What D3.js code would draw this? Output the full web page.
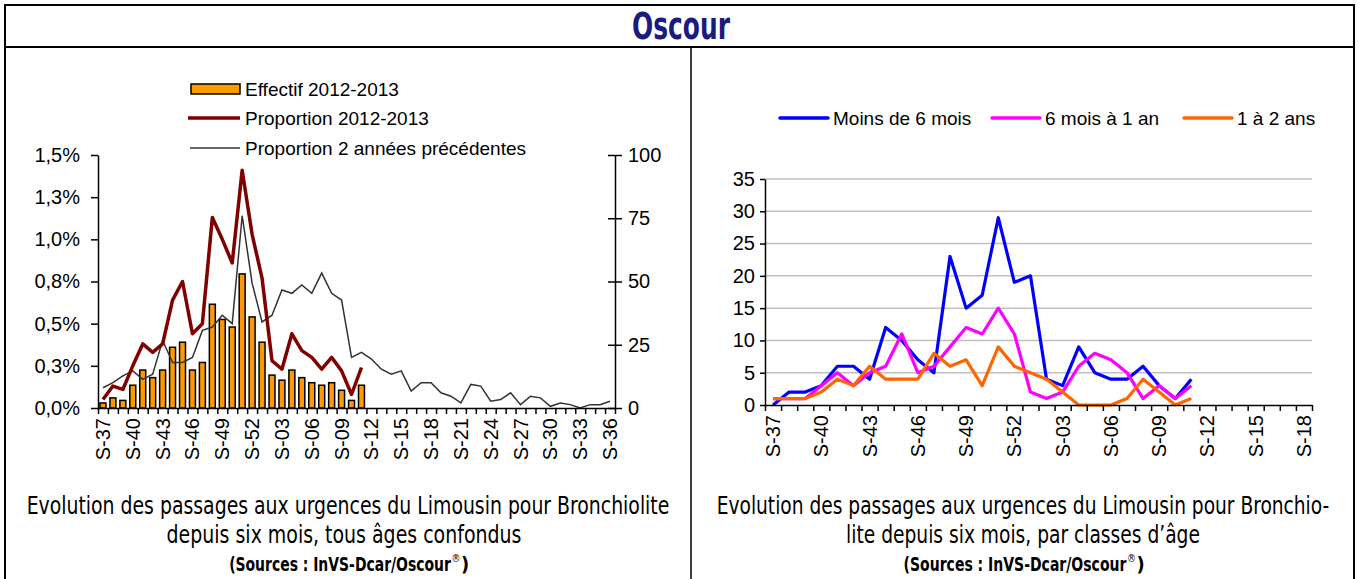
<!DOCTYPE html>
<html>
<head>
<meta charset="utf-8">
<script src="https://cdn.jsdelivr.net/npm/d3@7.9.0/dist/d3.min.js"></script>
<style>
  body { margin: 0; background: #fff; }
  svg { display: block; }
  text { font-family: "Liberation Sans", Arial, sans-serif; fill: #000; }
  .narrow { font-family: "Liberation Sans Narrow", "DejaVu Sans Condensed", sans-serif; }
  .axis path, .axis line { stroke: #000; stroke-width: 1.5; }
  .axis text { font-size: 20px; }
</style>
</head>
<body>
<svg id="chart" width="1359" height="579"></svg>
<script>
// week categories (S-37 .. S-52, then S-01 ..)
const weeksLeft = d3.range(37, 53).concat(d3.range(1, 37)).map(w => "S-" + String(w).padStart(2, "0"));
const weeksRight = d3.range(37, 53).concat(d3.range(1, 19)).map(w => "S-" + String(w).padStart(2, "0"));

// left chart : counts (right axis) and proportions in % (left axis)
const effectif2013 = [2, 4, 3, 9, 15, 12, 15, 24, 26, 15, 18, 41, 35, 32, 53, 36, 26, 13, 11, 15, 12, 10, 9, 10, 7, 3, 9];
const proportion2013 = [0.05, 0.13, 0.11, 0.25, 0.38, 0.33, 0.38, 0.64, 0.75, 0.44, 0.50, 1.13, 1.00, 0.86, 1.41, 1.03, 0.77, 0.28, 0.23, 0.44, 0.34, 0.30, 0.23, 0.30, 0.22, 0.08, 0.24];
const proportionPrev = [0.12, 0.15, 0.19, 0.22, 0.17, 0.20, 0.40, 0.27, 0.27, 0.30, 0.46, 0.48, 0.55, 0.50, 1.14, 0.74, 0.51, 0.55, 0.70, 0.68,
  0.73, 0.68, 0.80, 0.68, 0.64, 0.30, 0.33, 0.29, 0.23, 0.20, 0.22, 0.10, 0.15, 0.15, 0.09, 0.07, 0.03, 0.14, 0.13, 0.04,
  0.05, 0.09, 0.02, 0.07, 0.06, 0.01, 0.03, 0.02, 0.00, 0.02, 0.02, 0.04];
const pctTicks = [0, 0.25, 0.5, 0.75, 1, 1.25, 1.5];
const pctLabels = ["0,0%", "0,3%", "0,5%", "0,8%", "1,0%", "1,3%", "1,5%"];
const countTicks = [0, 25, 50, 75, 100];

// right chart : counts by age class
const moins6mois = [0, 2, 2, 3, 6, 6, 4, 12, 10, 7, 5, 23, 15, 17, 29, 19, 20, 4, 3, 9, 5, 4, 4, 6, 3, 1, 4];
const sixMois1an = [1, 1, 1, 3, 5, 3, 5, 6, 11, 5, 6, 9, 12, 11, 15, 11, 2, 1, 2, 6, 8, 7, 5, 1, 3, 1, 3];
const un2ans = [1, 1, 1, 2, 4, 3, 6, 4, 4, 4, 8, 6, 7, 3, 9, 6, 5, 4, 2, 0, 0, 0, 1, 4, 2, 0, 1];
const ageTicks = [0, 5, 10, 15, 20, 25, 30, 35];
const ageSeries = [
  { name: "Moins de 6 mois", values: moins6mois, color: "#0000ff" },
  { name: "6 mois à 1 an", values: sixMois1an, color: "#ff00ff" },
  { name: "1 à 2 ans", values: un2ans, color: "#ff6600" }
];

const svg = d3.select("#chart");

// squeeze a text horizontally so that it takes the given width
function fit(sel, cx, y, width) {
  const w = sel.node().getComputedTextLength();
  sel.attr("x", 0).attr("y", 0).attr("text-anchor", "middle")
    .attr("transform", `translate(${cx},${y}) scale(${width / w},1)`);
}

// frame
svg.append("rect").attr("x", 5).attr("y", 5).attr("width", 1349).attr("height", 580)
  .attr("fill", "none").attr("stroke", "#000").attr("stroke-width", 2);
svg.append("line").attr("x1", 5).attr("x2", 1354).attr("y1", 47).attr("y2", 47)
  .attr("stroke", "#000").attr("stroke-width", 2);
svg.append("line").attr("x1", 691).attr("x2", 691).attr("y1", 47).attr("y2", 579)
  .attr("stroke", "#000").attr("stroke-width", 1.5);
const title = svg.append("text").attr("class", "narrow").attr("font-size", 37).attr("font-weight", "bold")
  .style("fill", "#1a1a80").text("Oscour");
fit(title, 681, 39, 98);

// ---------- left chart ----------
const xL0 = 98, xL1 = 615, yL0 = 408, yL1 = 155;
const xBandL = d3.scaleBand().domain(weeksLeft).range([xL0, xL1]);
const xIdxL = d3.scaleLinear().domain([0, weeksLeft.length]).range([xL0, xL1]);
const yPct = d3.scaleLinear().domain([0, 1.5]).range([yL0, yL1]);
const yCount = d3.scaleLinear().domain([0, 100]).range([yL0, yL1]);
const bwL = xBandL.bandwidth();

const left = svg.append("g");

left.selectAll("rect.bar").data(effectif2013).join("rect")
  .attr("class", "bar")
  .attr("x", (d, i) => xBandL(weeksLeft[i]) + bwL * 0.2)
  .attr("width", bwL * 0.6)
  .attr("y", d => yCount(d))
  .attr("height", d => yCount(0) - yCount(d))
  .attr("fill", "#ff9900").attr("stroke", "#000").attr("stroke-width", 1.5);

const lineL = d3.line().x((d, i) => xBandL(weeksLeft[i]) + bwL / 2).y(d => yPct(d));
left.append("path").datum(proportionPrev).attr("d", lineL)
  .attr("fill", "none").attr("stroke", "#333").attr("stroke-width", 1.5);
left.append("path").datum(proportion2013).attr("d", lineL)
  .attr("fill", "none").attr("stroke", "#800000").attr("stroke-width", 3.5).attr("stroke-linejoin", "round");

left.append("g").attr("class", "axis").attr("transform", `translate(${xL0},0)`)
  .call(d3.axisLeft(yPct).tickValues(pctTicks).tickFormat((d, i) => pctLabels[i]).tickSize(7).tickSizeOuter(0).tickPadding(11));
left.append("g").attr("class", "axis").attr("transform", `translate(${xL1},0)`)
  .call(d3.axisRight(yCount).tickValues(countTicks).tickSize(7).tickSizeOuter(0).tickPadding(6))
  .call(g => g.selectAll(".tick line").attr("x1", -7));
left.append("g").attr("class", "axis").attr("transform", `translate(0,${yL0})`)
  .call(d3.axisBottom(xIdxL).tickValues(d3.range(weeksLeft.length + 1)).tickFormat("").tickSize(6).tickSizeOuter(0));
left.append("g").attr("class", "axis").attr("transform", `translate(0,${yL0})`)
  .call(d3.axisBottom(xBandL).tickValues(weeksLeft.filter((d, i) => i % 3 === 0)).tickSize(0))
  .call(g => g.select(".domain").remove())
  .call(g => g.selectAll("text").attr("transform", "rotate(-90)").attr("x", -10).attr("y", 0)
    .attr("dy", "0.35em").style("text-anchor", "end"));

// left legend
const legL = svg.append("g").attr("font-size", 19);
legL.append("rect").attr("x", 191).attr("y", 84).attr("width", 49).attr("height", 10)
  .attr("fill", "#ff9900").attr("stroke", "#000").attr("stroke-width", 1.5);
legL.append("line").attr("x1", 188).attr("x2", 240).attr("y1", 118).attr("y2", 118)
  .attr("stroke", "#800000").attr("stroke-width", 3.5);
legL.append("line").attr("x1", 190).attr("x2", 240).attr("y1", 148).attr("y2", 148)
  .attr("stroke", "#333").attr("stroke-width", 1.5);
["Effectif 2012-2013", "Proportion 2012-2013", "Proportion 2 années précédentes"].forEach((t, i) => {
  legL.append("text").attr("x", 245).attr("y", 89 + i * 29.5).attr("dy", "0.35em").text(t);
});

// ---------- right chart ----------
const xR0 = 765, xR1 = 1312, yR0 = 405, yR1 = 179;
const xBandR = d3.scaleBand().domain(weeksRight).range([xR0, xR1]);
const xIdxR = d3.scaleLinear().domain([0, weeksRight.length]).range([xR0, xR1]);
const yAge = d3.scaleLinear().domain([0, 35]).range([yR0, yR1]);
const bwR = xBandR.bandwidth();

const right = svg.append("g");
right.selectAll("line.grid").data(ageTicks.slice(1)).join("line")
  .attr("class", "grid").attr("x1", xR0).attr("x2", xR1)
  .attr("y1", d => yAge(d)).attr("y2", d => yAge(d))
  .attr("stroke", "#c0c0c0").attr("stroke-width", 1.5);

const lineR = d3.line().x((d, i) => xBandR(weeksRight[i]) + bwR / 2).y(d => yAge(d));
ageSeries.forEach(s => {
  right.append("path").datum(s.values).attr("d", lineR)
    .attr("fill", "none").attr("stroke", s.color).attr("stroke-width", 3.2).attr("stroke-linejoin", "round");
});

right.append("g").attr("class", "axis").attr("transform", `translate(${xR0},0)`)
  .call(d3.axisLeft(yAge).tickValues(ageTicks).tickSize(5).tickSizeOuter(0).tickPadding(5));
right.append("g").attr("class", "axis").attr("transform", `translate(0,${yR0})`)
  .call(d3.axisBottom(xIdxR).tickValues(d3.range(weeksRight.length + 1)).tickFormat("").tickSize(6).tickSizeOuter(0));
right.append("g").attr("class", "axis").attr("transform", `translate(0,${yR0})`)
  .call(d3.axisBottom(xBandR).tickValues(weeksRight.filter((d, i) => i % 3 === 0)).tickSize(0))
  .call(g => g.select(".domain").remove())
  .call(g => g.selectAll("text").attr("transform", "rotate(-90)").attr("x", -10).attr("y", 0)
    .attr("dy", "0.35em").style("text-anchor", "end"));

// right legend
const legR = svg.append("g").attr("font-size", 19);
const legPos = [780, 992, 1184];
ageSeries.forEach((s, i) => {
  legR.append("line").attr("x1", legPos[i]).attr("x2", legPos[i] + 48).attr("y1", 118).attr("y2", 118)
    .attr("stroke", s.color).attr("stroke-width", 3.5).attr("stroke-linecap", "round");
  legR.append("text").attr("x", legPos[i] + 53).attr("y", 118).attr("dy", "0.35em").text(s.name);
});

// ---------- captions ----------
function caption(cx, lines, src) {
  lines.forEach(l => {
    const t = svg.append("text").attr("class", "narrow").attr("font-size", 25).text(l.text);
    fit(t, cx + (l.dx || 0), l.y, l.w);
  });
  // sources line with superscript mark
  const x0 = cx - src.w / 2;
  const mw = src.w - 16;
  const main = svg.append("text").attr("class", "narrow").attr("font-size", 20).attr("font-weight", "bold")
    .text("(Sources : InVS-Dcar/Oscour");
  fit(main, x0 + mw / 2, src.y, mw);
  svg.append("text").attr("class", "narrow").attr("font-size", 10).attr("x", x0 + mw + 0.5).attr("y", src.y - 9)
    .text("®");
  svg.append("text").attr("class", "narrow").attr("font-size", 20).attr("font-weight", "bold")
    .attr("x", x0 + mw + 10).attr("y", src.y).text(")");
}
caption(348, [
  { text: "Evolution des passages aux urgences  du Limousin pour Bronchiolite", y: 514, w: 643 },
  { text: "depuis six mois, tous âges confondus", y: 543, w: 355, dx: -4 }
], { y: 571, w: 238 });
caption(1023, [
  { text: "Evolution des passages aux urgences du Limousin pour Bronchio-", y: 514, w: 613 },
  { text: "lite depuis six mois, par classes d’âge", y: 543, w: 354 }
], { y: 571, w: 239 });
</script>
</body>
</html>
